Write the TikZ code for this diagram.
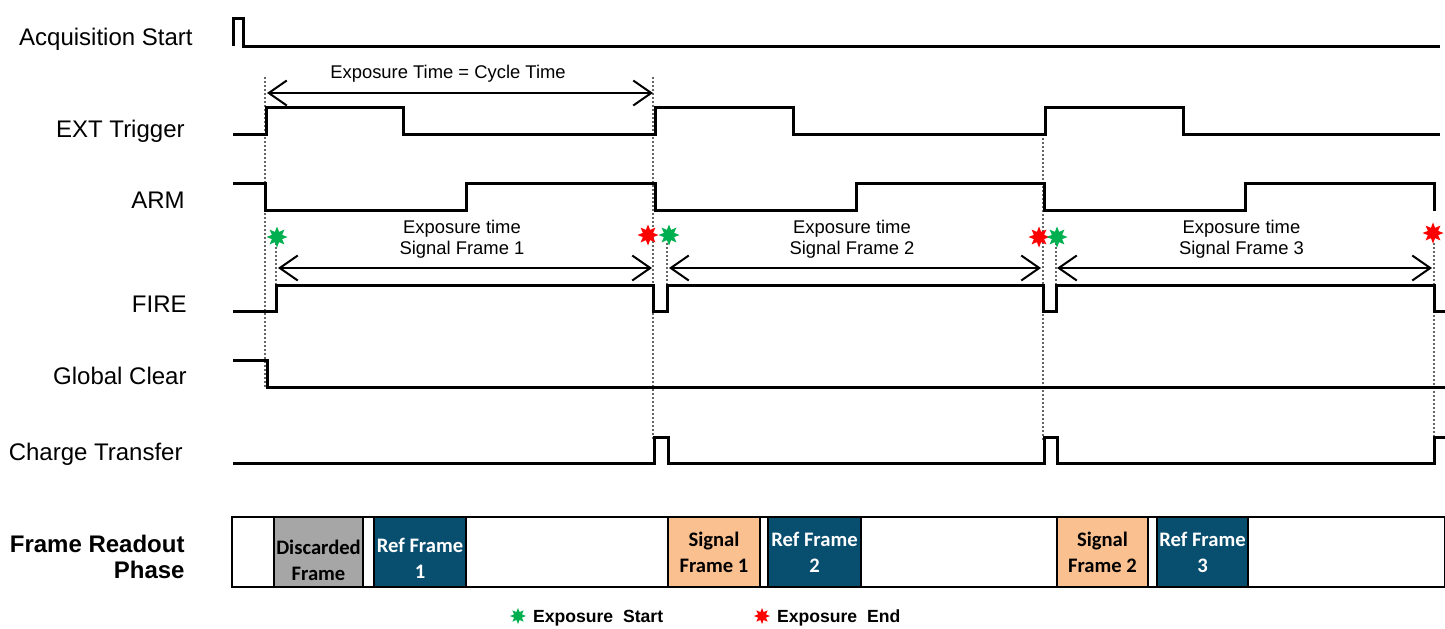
\documentclass[tikz,border=0pt]{standalone}
\usepackage{fontspec}
\setmainfont{Liberation Sans}
\newfontfamily\boxfont{Carlito}
\usepackage{tikz}
\usetikzlibrary{positioning,arrows.meta,shapes.geometric}
\definecolor{startgreen}{RGB}{0,176,80}
\definecolor{endred}{RGB}{255,0,0}
\definecolor{refblue}{RGB}{8,78,110}
\definecolor{sigorange}{RGB}{250,192,144}
\definecolor{discgrey}{RGB}{166,166,166}
\tikzset{
  wave/.style={line width=1.5pt,line join=miter},
  guide/.style={densely dotted,line width=1pt,black!60},
  span/.style={line width=1pt,{Straight Barb[length=9pt,width=12.5pt]}-{Straight Barb[length=9pt,width=12.5pt]}},
  siglabel/.style={font=\fontsize{12}{14}\selectfont,anchor=east,inner sep=0pt},
  spantext/.style={font=\fontsize{9.2}{10.6}\selectfont,align=center},
  readbox/.style={draw=black,line width=1pt},
  boxtext/.style={font=\boxfont\bfseries\fontsize{10.3}{13}\selectfont,align=center},
  mark star/.style={star,star points=8,star point ratio=1.9,minimum size=10.5pt,inner sep=0pt,draw=none,fill=#1}
}
\begin{document}
\begin{tikzpicture}[x=0.5pt,y=-0.5pt]
  \useasboundingbox (0,0) rectangle (1445,628);
  % signal names
  \foreach \name/\xx/\yy/\txt in {
    acq/193/39/Acquisition Start,
    ext/185/131/EXT Trigger,
    arm/185/200/ARM,
    fire/187/304/FIRE,
    gclr/187/376/Global Clear,
    ctr/183/454/Charge Transfer} {
    \node[siglabel] (lbl-\name) at (\xx,\yy) {\txt};
  }
  \node[font=\bfseries\fontsize{12}{13}\selectfont,align=right,anchor=east,inner sep=0pt] (lbl-frp) at (185,557) {Frame Readout\\Phase};
  % guide lines at the cycle edges
  \draw[guide] (265,77) -- (265,387);
  \draw[guide] (653,77) -- (653,440);
  \draw[guide] (1043,134) -- (1043,440);
  \draw[guide] (1434,243) -- (1434,440);
  \foreach \xx in {276,667,1056}
    \draw[guide] (\xx,243) -- (\xx,285);
  % waveforms
  \draw[wave] (233,46) -- (233,18) -- (243,18) -- (243,46) -- (1440,46);
  \draw[wave] (233,134) -- (266,134) -- (266,107) -- (403,107) -- (403,134)
    -- (655,134) -- (655,107) -- (793,107) -- (793,134)
    -- (1045,134) -- (1045,107) -- (1183,107) -- (1183,134) -- (1440,134);
  \draw[wave] (233,183) -- (265,183) -- (265,210) -- (466,210) -- (466,183)
    -- (655,183) -- (655,210) -- (856,210) -- (856,183)
    -- (1044,183) -- (1044,210) -- (1245,210) -- (1245,183)
    -- (1434,183) -- (1434,211);
  \draw[wave] (233,311) -- (276,311) -- (276,285) -- (653,285) -- (653,311)
    -- (667,311) -- (667,285) -- (1043,285) -- (1043,311)
    -- (1056,311) -- (1056,285) -- (1434,285) -- (1434,311) -- (1445,311);
  \draw[wave] (233,360) -- (267,360) -- (267,387) -- (1445,387);
  \draw[wave] (233,463) -- (654,463) -- (654,437) -- (668,437) -- (668,463)
    -- (1044,463) -- (1044,437) -- (1057,437) -- (1057,463)
    -- (1434,463) -- (1434,437) -- (1445,437);
  % cycle time span
  \coordinate (cyc-a) at (267,93);
  \coordinate (cyc-b) at (653,93);
  \draw[span] (cyc-a) -- (cyc-b);
  \node[spantext] (cyc-txt) at (448,74) {Exposure Time = Cycle Time};
  % exposure spans: start / end / frame
  \foreach \xa/\xb/\fr in {278/652/1, 669/1041/2, 1057/1432/3} {
    \coordinate (exp-a\fr) at (\xa,268);
    \coordinate (exp-b\fr) at (\xb,268);
    \draw[span] (exp-a\fr) -- (exp-b\fr);
    \node[spantext] (exp-txt\fr) at ({(\xa+\xb)/2-3},239) {Exposure time\\Signal Frame \fr};
  }
  % exposure start / end marks
  \foreach \name/\xx/\yy/\col in {
    s1/277/237/startgreen, e1/648/235/endred,
    s2/669/235/startgreen, e2/1039/237/endred,
    s3/1057/237/startgreen, e3/1433/233/endred} {
    \node[mark star=\col] (mk-\name) at (\xx,\yy) {};
  }
  % frame readout phase
  \draw[readbox] (232,517) rectangle (1445,587);
  \foreach \name/\xa/\xb/\col/\tc/\ty/\txt in {
    disc/274/363/discgrey/black/560/Discarded\\Frame,
    ref1/374/466/refblue/white/558/Ref Frame\\1,
    sig1/668/760/sigorange/black/552/Signal\\Frame 1,
    ref2/768/861/refblue/white/552/Ref Frame\\2,
    sig2/1057/1148/sigorange/black/552/Signal\\Frame 2,
    ref3/1157/1248/refblue/white/552/Ref Frame\\3} {
    \draw[readbox,fill=\col] (\xa,517) rectangle (\xb,587);
    \node[boxtext,text=\tc] (box-\name) at ({(\xa+\xb)/2},\ty) {\txt};
  }
  % legend
  \node[mark star=startgreen,minimum size=8pt] (lg-start) at (518,616) {};
  \node[font=\bfseries\fontsize{8.8}{10}\selectfont,anchor=base west] (lg-starttxt) at (526,622) {Exposure\ \ Start};
  \node[mark star=endred,minimum size=8pt] (lg-end) at (762,616) {};
  \node[font=\bfseries\fontsize{8.8}{10}\selectfont,anchor=base west] (lg-endtxt) at (770,622) {Exposure\ \ End};
\end{tikzpicture}
\end{document}
